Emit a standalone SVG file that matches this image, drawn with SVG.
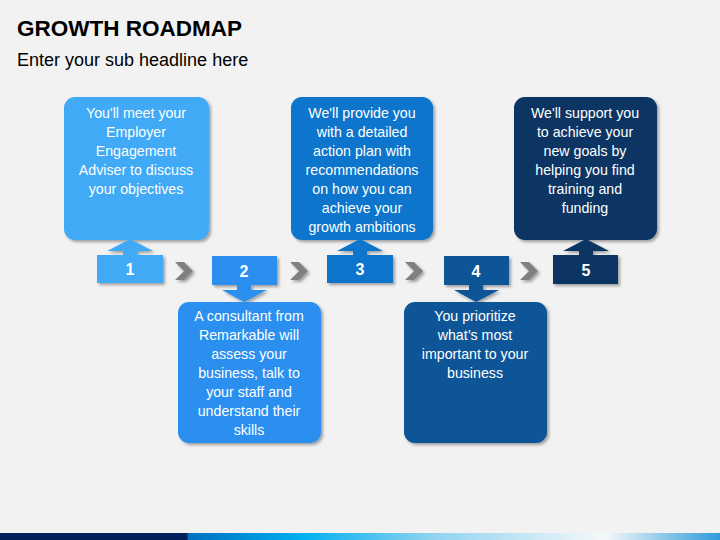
<svg xmlns="http://www.w3.org/2000/svg" width="720" height="540" viewBox="0 0 720 540">
<defs>
<filter id="sh" x="-20%" y="-20%" width="150%" height="150%">
<feDropShadow dx="2" dy="2" stdDeviation="1.5" flood-color="#000" flood-opacity="0.35"/>
</filter>
<linearGradient id="bar" x1="0" y1="0" x2="1" y2="0">
<stop offset="0" stop-color="#00205B"/>
<stop offset="0.26" stop-color="#00205B"/>
<stop offset="0.261" stop-color="#0070C0"/>
<stop offset="0.42" stop-color="#00B0F0"/>
<stop offset="0.6" stop-color="#8FD3F0"/>
<stop offset="0.84" stop-color="#F5F8FA"/>
<stop offset="1" stop-color="#2E9BDA"/>
</linearGradient>
</defs>
<style>
.t{font-family:"Liberation Sans",Arial,sans-serif;fill:#fff;font-size:14.2px;text-anchor:middle}
.n{font-family:"Liberation Sans",Arial,sans-serif;fill:#fff;font-size:16px;font-weight:bold;text-anchor:middle}
.chev{fill:#808080;filter:url(#sh)}
</style>
<rect width="720" height="540" fill="#F2F2F2"/>
<text x="17" y="36" font-family="'Liberation Sans',Arial,sans-serif" font-weight="bold" font-size="22.5" fill="#000">GROWTH ROADMAP</text>
<text x="17" y="66" font-family="'Liberation Sans',Arial,sans-serif" font-size="18" fill="#000">Enter your sub headline here</text>
<rect x="0" y="533" width="720" height="7" fill="url(#bar)"/>

<g id="connectors">
<path class="chev" d="M175,262 h9 l9,9 l-9,9 h-9 l9,-9 z"/>
<path class="chev" d="M290,262 h9 l9,9 l-9,9 h-9 l9,-9 z"/>
<path class="chev" d="M405,262 h9 l9,9 l-9,9 h-9 l9,-9 z"/>
<path class="chev" d="M520,262 h9 l9,9 l-9,9 h-9 l9,-9 z"/>
</g>

<g id="step1" filter="url(#sh)">
<rect x="64" y="97" width="145" height="143" rx="11" fill="#41AAF6"/>
<path d="M130,239 L153,251 H137 V256 H123 V251 H107 Z" fill="#41AAF6"/>
<rect x="97" y="255" width="66" height="28" fill="#41AAF6"/>
</g>
<g id="step1-text">
<text class="n" x="130" y="275">1</text>
<text class="t" x="136" y="118">You'll meet your</text>
<text class="t" x="136" y="137">Employer</text>
<text class="t" x="136" y="156">Engagement</text>
<text class="t" x="136" y="175">Adviser to discuss</text>
<text class="t" x="136" y="194">your objectives</text>
</g>

<g id="step2" filter="url(#sh)">
<rect x="178" y="302" width="143" height="141" rx="11" fill="#2A8FEF"/>
<path d="M244,302 L267,290 H251 V284 H237 V290 H222 Z" fill="#2A8FEF"/>
<rect x="212" y="256" width="65" height="29" fill="#2A8FEF"/>
</g>
<g id="step2-text">
<text class="n" x="244" y="277">2</text>
<text class="t" x="249" y="321">A consultant from</text>
<text class="t" x="249" y="340">Remarkable will</text>
<text class="t" x="249" y="359">assess your</text>
<text class="t" x="249" y="378">business, talk to</text>
<text class="t" x="249" y="397">your staff and</text>
<text class="t" x="249" y="416">understand their</text>
<text class="t" x="249" y="435">skills</text>
</g>

<g id="step3" filter="url(#sh)">
<rect x="291" y="97" width="142" height="143" rx="11" fill="#0774CC"/>
<path d="M360,239 L383,251 H367 V256 H353 V251 H337 Z" fill="#0774CC"/>
<rect x="327" y="255" width="66" height="28" fill="#0774CC"/>
</g>
<g id="step3-text">
<text class="n" x="360" y="275">3</text>
<text class="t" x="362" y="118">We'll provide you</text>
<text class="t" x="362" y="137">with a detailed</text>
<text class="t" x="362" y="156">action plan with</text>
<text class="t" x="362" y="175">recommendations</text>
<text class="t" x="362" y="194">on how you can</text>
<text class="t" x="362" y="213">achieve your</text>
<text class="t" x="362" y="232">growth ambitions</text>
</g>

<g id="step4" filter="url(#sh)">
<rect x="404" y="302" width="143" height="141" rx="11" fill="#0A5597"/>
<path d="M476,302 L499,290 H483 V284 H469 V290 H454 Z" fill="#0A5597"/>
<rect x="444" y="256" width="65" height="29" fill="#0A5597"/>
</g>
<g id="step4-text">
<text class="n" x="476" y="277">4</text>
<text class="t" x="475" y="321">You prioritize</text>
<text class="t" x="475" y="340">what’s most</text>
<text class="t" x="475" y="359">important to your</text>
<text class="t" x="475" y="378">business</text>
</g>

<g id="step5" filter="url(#sh)">
<rect x="514" y="97" width="143" height="143" rx="11" fill="#073563"/>
<path d="M586,239 L609,251 H593 V256 H579 V251 H563 Z" fill="#073563"/>
<rect x="553" y="255" width="65" height="29" fill="#073563"/>
</g>
<g id="step5-text">
<text class="n" x="586" y="276">5</text>
<text class="t" x="585" y="118">We'll support you</text>
<text class="t" x="585" y="137">to achieve your</text>
<text class="t" x="585" y="156">new goals by</text>
<text class="t" x="585" y="175">helping you find</text>
<text class="t" x="585" y="194">training and</text>
<text class="t" x="585" y="213">funding</text>
</g>
</svg>
